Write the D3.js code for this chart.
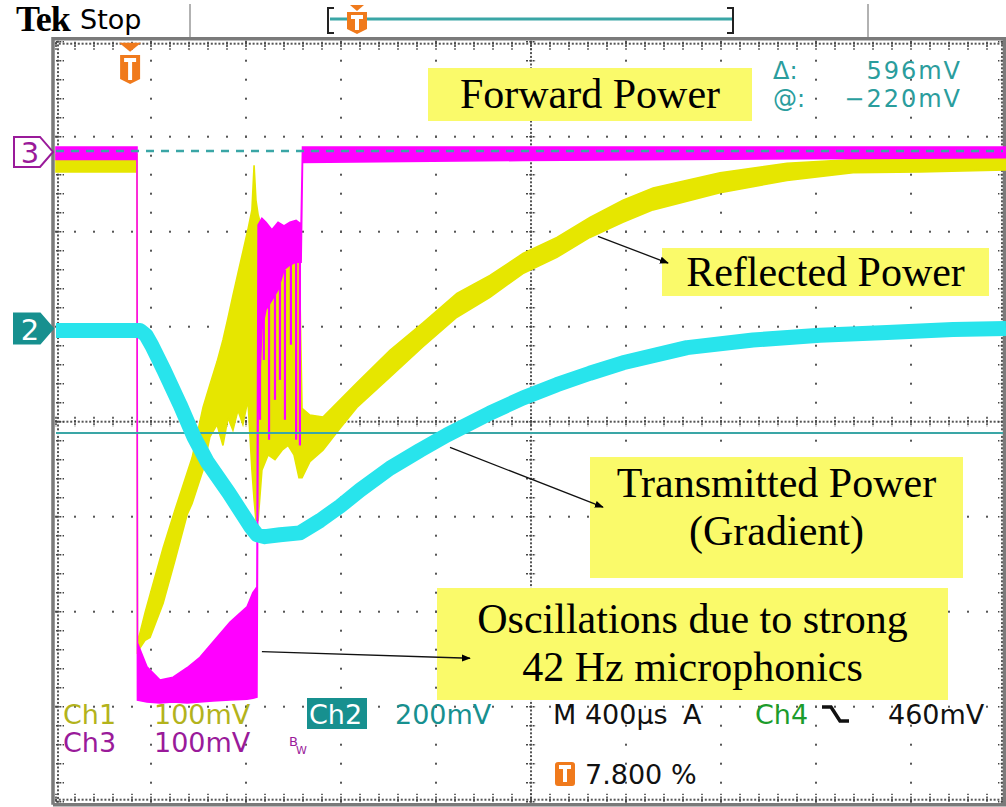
<!DOCTYPE html>
<html>
<head>
<meta charset="utf-8">
<script src="https://cdn.jsdelivr.net/npm/d3@7"></script>
<style>
    body { margin: 0; background: #fff; }
    svg { display: block; }
</style>
</head>
<body>
<svg id="scope" width="1006" height="807"></svg>
<script>
// values: time in µs from the trigger, level in screen divisions
const timeRange = [-312, 3688];
const divRange = [-4, 4];

// Ch1 reflected power: [time, upper edge, lower edge]
const ch1Band = [
    [-312, 2.81, 2.63], [29, 2.81, 2.63], [31, -2.33, -2.42], [63, -2.01, -2.30],
    [84, -1.82, -2.27], [139, -1.33, -1.91], [189, -0.93, -1.46], [240, -0.54, -0.98],
    [261, -0.38, -0.86], [307, 0.15, -0.51], [336, 0.39, -0.16], [366, 0.63, -0.03],
    [391, 0.86, -0.25], [412, 1.09, 0.04], [433, 1.33, -0.09], [454, 1.56, 0.12],
    [475, 1.79, -0.03], [496, 2.02, 0.23], [513, 2.23, -0.51], [522, 2.70, -0.82],
    [530, 2.33, -1.04], [539, 2.18, -1.04], [555, 2.04, -0.51], [581, 2.00, -0.35],
    [610, 1.97, -0.40], [640, 2.00, -0.30], [665, 1.97, -0.25], [690, 2.00, -0.35],
    [711, 1.91, -0.59], [724, 0.14, -0.59], [757, 0.07, -0.42], [812, 0.05, -0.30],
    [884, 0.23, -0.07], [955, 0.41, 0.15], [1094, 0.75, 0.47], [1233, 1.04, 0.79],
    [1376, 1.35, 1.10], [1515, 1.54, 1.31], [1654, 1.77, 1.56], [1797, 1.94, 1.73],
    [1936, 2.15, 1.94], [2075, 2.33, 2.10], [2202, 2.46, 2.23], [2484, 2.62, 2.41],
    [2766, 2.72, 2.54], [3044, 2.76, 2.62], [3326, 2.78, 2.63], [3688, 2.79, 2.65]
];

// Ch3 forward power: [time, upper edge, lower edge]
const ch3Band = [
    [-312, 2.89, 2.76], [29, 2.89, 2.76], [31, -2.33, -2.93], [71, -2.58, -2.95],
    [126, -2.72, -2.96], [181, -2.69, -2.95], [240, -2.59, -2.96], [294, -2.48, -2.95],
    [349, -2.32, -2.94], [421, -2.11, -2.93], [492, -1.95, -2.92], [517, -1.80, -2.91],
    [534, -1.74, -2.90], [539, 2.07, 0.09], [555, 2.14, 0.97], [572, 2.10, 1.18],
    [597, 2.02, 1.28], [623, 2.10, 1.39], [648, 2.06, 1.60], [673, 2.10, 1.65],
    [699, 2.12, 1.68], [720, 2.08, 1.68], [726, 2.89, 2.73], [1654, 2.89, 2.75],
    [3688, 2.89, 2.78]
];

// Ch3 noise streaks in the oscillation burst: [time, top, bottom]
const ch3Streaks = [
    [547, 1.28, 0.02], [563, 1.39, 0.65], [585, 1.49, -0.19], [610, 1.60, 0.23],
    [631, 1.65, 0.44], [652, 1.60, 0.02], [677, 1.65, 0.81], [699, 1.68, -0.19],
    [715, 1.68, -0.25]
];

// Ch2 transmitted power (gradient): [time, level]
const ch2Line = [
    [-312, 0.96], [42, 0.96], [67, 0.91], [92, 0.80], [143, 0.54], [210, 0.18],
    [269, -0.16], [324, -0.42], [416, -0.75], [509, -1.11], [534, -1.19], [568, -1.21],
    [631, -1.19], [715, -1.17], [800, -1.04], [884, -0.89], [968, -0.72], [1094, -0.49],
    [1221, -0.30], [1334, -0.14], [1515, 0.09], [1654, 0.25], [1797, 0.39], [1936, 0.51],
    [2075, 0.62], [2345, 0.78], [2623, 0.86], [2905, 0.91], [3187, 0.94], [3465, 0.97],
    [3688, 0.98]
];

const cursorLevels = [2.85, -0.12];
const cursorTexts = [['Δ:', '596mV'], ['@:', '−220mV']];
const channelMarkers = [
    {label: '3', level: 2.84, filled: false},
    {label: '2', level: 0.98, filled: true}
];
const triggerTime = 0;

const notes = [
    {lines: ['Forward Power'], box: [428, 68, 324, 53], base: 108},
    {lines: ['Reflected Power'], box: [662, 248, 327, 48], base: 286},
    {lines: ['Transmitted Power', '(Gradient)'], box: [590, 457, 373, 121], base: 497},
    {lines: ['Oscillations due to strong', '42 Hz microphonics'], box: [437, 588, 511, 112], base: 633}
];
// arrows: [time, level] -> [time, level]
const arrows = [
    [[1970, 1.95], [2265, 1.67]],
    [[1347, -0.27], [1991, -0.90]],
    [[555, -2.42], [1431, -2.49]]
];

const YELLOW = '#e6e600', MAGENTA = '#ff00ff', CYAN = '#28e4ec';
const TEAL = '#2a9d9d', ORANGE = '#f07a1c', PURPLE = '#9a1a9a';
const L = 56, R = 1006, T = 41.7, B = 801.7;

const svg = d3.select('#scope');
const x = d3.scaleLinear(timeRange, [L, R]);
const y = d3.scaleLinear(divRange, [B, T]);
const gx = d3.scaleLinear([0, 10], [L, R]);

// ---- graticule ----
let dots = [];
d3.range(1, 10).filter(i => i !== 5).forEach(i =>
    d3.range(0, 41).forEach(j => dots.push([gx(i), y(-4 + j / 5)])));
d3.range(-3, 4).filter(k => k !== 0).forEach(k =>
    d3.range(0, 51).forEach(j => dots.push([gx(j / 5), y(k)])));
d3.range(0, 251).forEach(j => dots.push([gx(j / 25), y(0)]));
d3.range(0, 201).forEach(j => dots.push([gx(5), y(-4 + j / 25)]));
d3.range(0, 251).forEach(j => { dots.push([gx(j / 25), T + 2]); dots.push([gx(j / 25), B - 2]); });
d3.range(0, 201).forEach(j => { dots.push([L + 2, y(-4 + j / 25)]); dots.push([R - 4, y(-4 + j / 25)]); });

const grid = svg.append('g');
grid.selectAll('.dot')
    .data(dots)
    .enter()
    .append('rect')
    .attr('class', 'dot')
    .attr('x', d => d[0] - 1)
    .attr('y', d => d[1] - 1)
    .attr('width', 2)
    .attr('height', 2)
    .style('fill', '#555');

let ticks = [];
d3.range(0, 51).forEach(j => {
    ticks.push([gx(j / 5), y(0) - 5, gx(j / 5), y(0) + 5]);
    ticks.push([gx(j / 5), T, gx(j / 5), T + 8]);
    ticks.push([gx(j / 5), B, gx(j / 5), B - 8]);
});
d3.range(0, 41).forEach(j => {
    ticks.push([gx(5) - 5, y(-4 + j / 5), gx(5) + 5, y(-4 + j / 5)]);
    ticks.push([L, y(-4 + j / 5), L + 8, y(-4 + j / 5)]);
    ticks.push([R, y(-4 + j / 5), R - 8, y(-4 + j / 5)]);
});
grid.selectAll('.tick')
    .data(ticks)
    .enter()
    .append('line')
    .attr('class', 'tick')
    .attr('x1', d => d[0]).attr('y1', d => d[1])
    .attr('x2', d => d[2]).attr('y2', d => d[3])
    .style('stroke', '#444')
    .style('stroke-width', 1.6)
    .style('stroke-dasharray', '2,1.3');

// frame
grid.append('path')
    .attr('d', `M${L - 3},${B + 3} V${T - 3} H${R - 1.5} V${B + 3} H${L - 3}`)
    .style('fill', 'none')
    .style('stroke', '#7a7a7a')
    .style('stroke-width', 3.5);

// ---- traces ----
const band = d3.area()
    .x(d => x(d[0]))
    .y0(d => y(d[2]))
    .y1(d => y(d[1]));

svg.append('path')
    .datum(ch1Band)
    .attr('d', band)
    .style('fill', YELLOW)
    .style('stroke', YELLOW)
    .style('stroke-width', 1.6);

svg.append('path')
    .datum(ch3Band)
    .attr('d', band)
    .style('fill', MAGENTA)
    .style('stroke', MAGENTA)
    .style('stroke-width', 1.6);

svg.selectAll('.streak')
    .data(ch3Streaks)
    .enter()
    .append('line')
    .attr('class', 'streak')
    .attr('x1', d => x(d[0])).attr('x2', d => x(d[0]))
    .attr('y1', d => y(d[1])).attr('y2', d => y(d[2]))
    .style('stroke', MAGENTA)
    .style('stroke-width', 2.2);

// cursors
svg.selectAll('.cursor')
    .data(cursorLevels)
    .enter()
    .append('line')
    .attr('class', 'cursor')
    .attr('x1', L).attr('x2', R - 3)
    .attr('y1', d => y(d)).attr('y2', d => y(d))
    .style('stroke', '#3aa6a6')
    .style('stroke-width', (d, i) => i === 0 ? 2.5 : 2)
    .style('stroke-dasharray', (d, i) => i === 0 ? '8,7' : null);

svg.append('path')
    .datum(ch2Line)
    .attr('d', d3.line().x(d => x(d[0])).y(d => y(d[1])))
    .style('fill', 'none')
    .style('stroke', CYAN)
    .style('stroke-width', 15)
    .style('stroke-linejoin', 'round');

// ---- annotations ----
notes.forEach(n => {
    svg.append('rect')
        .attr('x', n.box[0]).attr('y', n.box[1])
        .attr('width', n.box[2]).attr('height', n.box[3])
        .style('fill', '#fafa6a');
    n.lines.forEach((line, i) => {
        svg.append('text')
            .attr('x', n.box[0] + n.box[2] / 2)
            .attr('y', n.base + i * 48)
            .attr('text-anchor', 'middle')
            .style('font-family', '"Liberation Serif", "Times New Roman", serif')
            .style('font-size', '42px')
            .style('fill', '#000')
            .text(line);
    });
});

svg.append('defs').append('marker')
    .attr('id', 'head')
    .attr('viewBox', '0 0 10 10')
    .attr('refX', 9).attr('refY', 5)
    .attr('markerWidth', 9).attr('markerHeight', 9)
    .attr('markerUnits', 'userSpaceOnUse')
    .attr('orient', 'auto')
    .append('path')
    .attr('d', 'M0,1 L10,5 L0,9 Z')
    .style('fill', '#000');

svg.selectAll('.arrow')
    .data(arrows)
    .enter()
    .append('line')
    .attr('class', 'arrow')
    .attr('x1', d => x(d[0][0])).attr('y1', d => y(d[0][1]))
    .attr('x2', d => x(d[1][0])).attr('y2', d => y(d[1][1]))
    .style('stroke', '#111')
    .style('stroke-width', 1.3)
    .attr('marker-end', 'url(#head)');

// ---- channel and trigger markers ----
channelMarkers.forEach(m => {
    let ty = y(m.level);
    let col = m.filled ? '#17908f' : PURPLE;
    svg.append('path')
        .attr('d', `M14,${ty - 15} H40 L53,${ty} L40,${ty + 15} H14 Z`)
        .style('fill', m.filled ? col : '#fff')
        .style('stroke', col)
        .style('stroke-width', 2);
    svg.append('text')
        .attr('x', 30).attr('y', ty + 11)
        .attr('text-anchor', 'middle')
        .style('font-family', '"DejaVu Sans", sans-serif')
        .style('font-size', '29px')
        .style('fill', m.filled ? '#fff' : PURPLE)
        .text(m.label);
});

function triggerIcon(cx, top, h) {
    let g = svg.append('g');
    g.append('path')
        .attr('d', `M${cx - 10},${top} H${cx + 10} V${top + h - 5} L${cx},${top + h} L${cx - 10},${top + h - 5} Z`)
        .style('fill', ORANGE);
    g.append('path')
        .attr('d', `M${cx - 6},${top + 5} H${cx + 6} M${cx},${top + 5} V${top + h - 4}`)
        .style('stroke', '#fff')
        .style('stroke-width', 4)
        .style('fill', 'none');
    return g;
}
let tx = x(triggerTime);
svg.append('path')
    .attr('d', `M${tx - 11},${T + 1} H${tx + 11} L${tx},${T + 10} Z`)
    .style('fill', ORANGE);
triggerIcon(tx, 55, 29);

// ---- header ----
svg.append('text')
    .attr('x', 16).attr('y', 31)
    .style('font-family', '"Liberation Serif", serif')
    .style('font-weight', 'bold')
    .style('font-size', '36px')
    .style('letter-spacing', '-1px')
    .text('Tek');
svg.append('text')
    .attr('x', 80).attr('y', 29)
    .style('font-family', '"DejaVu Sans", sans-serif')
    .style('font-size', '27px')
    .text('Stop');
[190, 868].forEach(sx => {
    svg.append('line')
        .attr('x1', sx).attr('x2', sx).attr('y1', 4).attr('y2', 37)
        .style('stroke', '#999').style('stroke-width', 1.5);
});
svg.append('line')
    .attr('x1', 330).attr('x2', 732).attr('y1', 19).attr('y2', 19)
    .style('stroke', '#3aa6a6').style('stroke-width', 3);
svg.append('path')
    .attr('d', 'M334,8 H328 V33 H334 M727,8 H733 V33 H727')
    .style('fill', 'none').style('stroke', '#222').style('stroke-width', 2);
svg.append('path')
    .attr('d', 'M350,5 H364 L357,11 Z')
    .style('fill', ORANGE);
triggerIcon(357, 12, 22);

// cursor readout
cursorTexts.forEach((c, i) => {
    let g = svg.append('g')
        .style('font-family', '"DejaVu Sans", sans-serif')
        .style('font-size', '24px')
        .style('fill', TEAL);
    g.append('text').attr('x', 773).attr('y', 79 + i * 28).text(c[0]);
    g.append('text').attr('x', 962).attr('y', 79 + i * 28).attr('text-anchor', 'end')
        .style('letter-spacing', '2px').text(c[1]);
});

// ---- bottom status ----
function label(tx, ty, txt, col, size) {
    return svg.append('text')
        .attr('x', tx).attr('y', ty)
        .style('font-family', '"DejaVu Sans", sans-serif')
        .style('font-size', (size || 27) + 'px')
        .style('fill', col)
        .text(txt);
}
label(63, 724, 'Ch1', '#b3b31c');
label(154, 724, '100mV', '#b3b31c');
svg.append('rect').attr('x', 307).attr('y', 698).attr('width', 60).attr('height', 31).style('fill', '#17908f');
label(309, 724, 'Ch2', '#fff');
label(395, 724, '200mV', '#17908f');
label(553, 724, 'M 400µs', '#111');
label(683, 724, 'A', '#111');
label(755, 724, 'Ch4', '#1c9c2c');
svg.append('path')
    .attr('d', 'M822,707 H831 L840,721 H849')
    .style('fill', 'none').style('stroke', '#111').style('stroke-width', 3.5);
label(888, 724, '460mV', '#111');
label(63, 752, 'Ch3', PURPLE);
label(154, 752, '100mV', PURPLE);
label(289, 746, 'B', PURPLE, 13);
label(296, 754, 'W', PURPLE, 11);
svg.append('rect').attr('x', 555).attr('y', 762).attr('width', 20).attr('height', 24).attr('rx', 3).style('fill', ORANGE);
svg.append('path').attr('d', 'M559,767 H571 M565,767 V782').style('stroke', '#fff').style('stroke-width', 4);
label(585, 784, '7.800 %', '#111');
</script>
</body>
</html>
